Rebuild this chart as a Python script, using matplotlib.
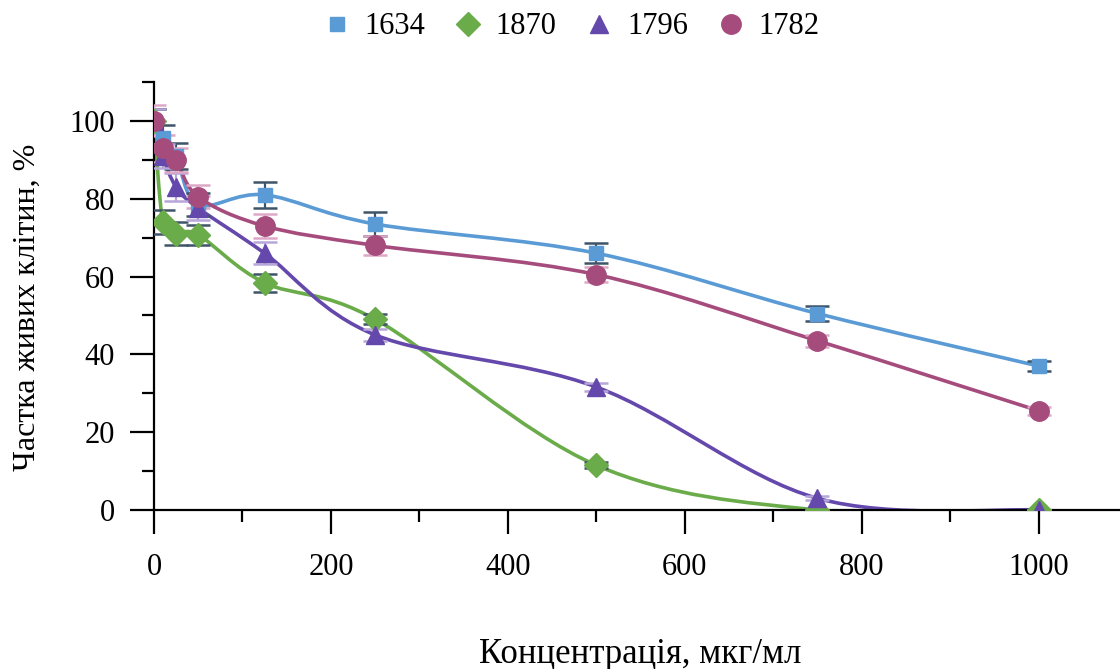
import numpy as np
import matplotlib
matplotlib.use("Agg")
from matplotlib import pyplot as plt
from matplotlib.path import Path
from matplotlib.patches import PathPatch
from matplotlib.ticker import MultipleLocator

plt.rcParams['font.family'] = ['Liberation Serif', 'DejaVu Serif']

# concentrations, mkg/ml
conc = [0, 10, 25, 50, 125, 250, 500, 750, 1000]

# share of living cells, % (mean and error) for each compound
s1634 = [100, 95.5, 91, 78.5, 81, 73.5, 66, 50.5, 37]
e1634 = [3, 3.5, 3.4, 3, 3.3, 3.1, 2.6, 2, 1.4]
s1870 = [100, 74, 71, 70.7, 58.4, 49, 11.5, 0, 0]
e1870 = [3, 3, 3, 2.5, 2.3, 1.3, 0.8, 0, 0]
s1796 = [100, 91, 83, 77.6, 66, 45, 31.6, 3, 0]
e1796 = [3, 3, 3.5, 3, 2.8, 1.5, 1, 0.5, 0]
s1782 = [100, 93, 90, 80.5, 73, 68, 60.5, 43.5, 25.5]
e1782 = [4, 3.5, 3, 3, 3, 2.5, 2, 1.5, 1]

names = ["1634", "1870", "1796", "1782"]
means = [s1634, s1870, s1796, s1782]
errs = [e1634, e1870, e1796, e1782]
colors = ["#5B9BD5", "#6AAB4A", "#6548AC", "#A64C7D"]
err_colors = ["#3E5468", "#3E5468", "#B7A6DA", "#DDA8C6"]
markers = ["s", "D", "^", "o"]
msizes = [10.5, 12.5, 13, 14]


def smooth_path(x, y):
    # excel-like smoothed line: cubic bezier through the points
    pts = np.column_stack([x, y]).astype(float)
    n = len(pts)
    verts = [pts[0]]
    codes = [Path.MOVETO]
    for i in range(n - 1):
        p0 = pts[max(i - 1, 0)]
        p1 = pts[i]
        p2 = pts[i + 1]
        p3 = pts[min(i + 2, n - 1)]
        c1 = p1 + (p2 - p0) / 6.0
        c2 = p2 - (p3 - p1) / 6.0
        verts += [c1, c2, p2]
        codes += [Path.CURVE4] * 3
    return Path(verts, codes)


fig = plt.figure(figsize=(11.2, 6.69), dpi=100)
ax = fig.add_axes([0.1375, 0.2377, 0.8625, 0.6397])

handles = []
for name, m, e, c, ec, mk, ms in zip(names, means, errs, colors, err_colors, markers, msizes):
    ax.add_patch(PathPatch(smooth_path(conc, m), facecolor="none", edgecolor=c, lw=2.6, zorder=2))
    ax.errorbar(conc, m, yerr=e, fmt="none", ecolor=ec, elinewidth=1.6, capsize=8.5, capthick=1.8, zorder=3)
    h, = ax.plot(conc, m, linestyle="none", marker=mk, color=c, markersize=ms, zorder=4, label=name)
    handles.append(h)

ax.set_xlim(0, 1092)
ax.set_ylim(0, 110)
ax.spines['top'].set_visible(False)
ax.spines['right'].set_visible(False)
for s in ['left', 'bottom']:
    ax.spines[s].set_linewidth(1.6)
ax.xaxis.set_major_locator(MultipleLocator(200))
ax.xaxis.set_minor_locator(MultipleLocator(100))
ax.yaxis.set_major_locator(MultipleLocator(20))
ax.yaxis.set_minor_locator(MultipleLocator(10))
ax.tick_params(which='major', direction='out', length=17, width=1.6, labelsize=22)
ax.tick_params(which='minor', direction='out', length=8.5, width=1.6)
ax.tick_params(axis='x', which='major', pad=14)
ax.tick_params(axis='y', which='major', pad=11)

fig.text(0.572, 0.022, "Концентрація, мкг/мл", ha='center', va='center', fontsize=25)
fig.text(0.024, 0.54, "Частка живих клітин, %", ha='center', va='center', rotation=90, fontsize=23)

fig.legend(handles=handles, loc='center', bbox_to_anchor=(0.508, 0.96), ncol=4, frameon=False,
           fontsize=22, handletextpad=0.3, columnspacing=0.8, handlelength=1.2)

fig.savefig("out.png", dpi=100)
